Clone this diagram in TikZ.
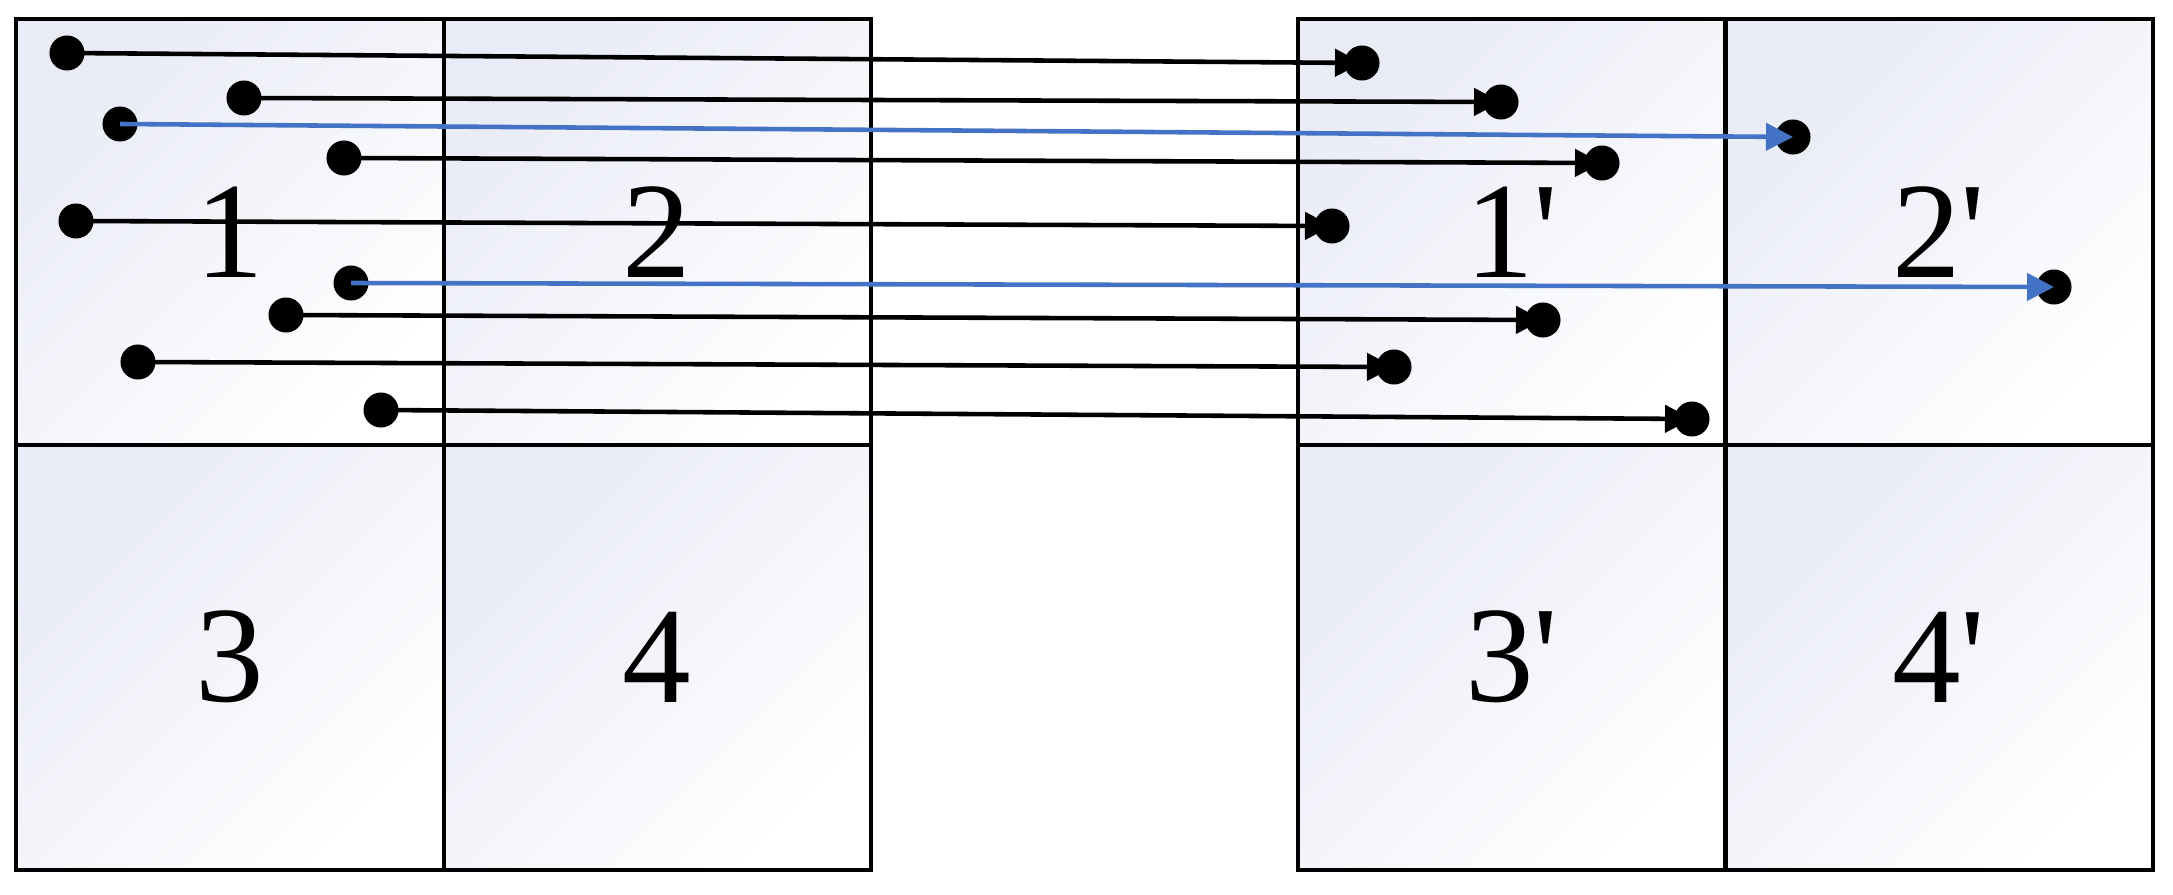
\documentclass[tikz,border=0pt]{standalone}
\usepackage{fontspec}
\setmainfont{Liberation Serif}
\usepackage{tikz}
\usetikzlibrary{arrows.meta,positioning}
\definecolor{cellTint}{RGB}{233,235,246}
\definecolor{moveBlue}{RGB}{68,114,196}

\begin{document}
\begin{tikzpicture}[x=0.01cm,y=-0.01cm,->,>={Triangle[length=2.7mm,width=2.7mm]},node distance=0cm,
	cell node/.style={draw, line width=1.2pt, outer sep=0pt, minimum width=4.27cm, minimum height=4.25cm, top color=cellTint, bottom color=white, shading angle=45, font=\fontsize{39}{39}\selectfont},
	dot node/.style={circle, fill=black, inner sep=0pt, minimum size=3.5mm}]
				\useasboundingbox (0,0) rectangle (2173,894);
				
				\node[cell node] (c1) at (230,232) {1};
				\node[cell node] (c2) [right=of c1] {2};
				\node[cell node] (c3) [below=of c1] {3};
				\node[cell node] (c4) [right=of c3] {4};
				
				\node[cell node] (c1p) [right=4.27cm of c2] {1\textquotesingle};
				\node[cell node] (c2p) [right=of c1p] {2\textquotesingle};
				\node[cell node] (c3p) [below=of c1p] {3\textquotesingle};
				\node[cell node] (c4p) [right=of c3p] {4\textquotesingle};
				
				\node[dot node] (s1) at (67,53) {};
				\node[dot node] (s2) at (244,98) {};
				\node[dot node] (s3) at (120,124) {};
				\node[dot node] (s4) at (344,158) {};
				\node[dot node] (s5) at (76,221) {};
				\node[dot node] (s6) at (351,283) {};
				\node[dot node] (s7) at (286,315) {};
				\node[dot node] (s8) at (138,362) {};
				\node[dot node] (s9) at (381,410) {};
				
				\node[dot node] (t1) at (1362,63) {};
				\node[dot node] (t2) at (1501,102) {};
				\node[dot node] (t3) at (1793,137) {};
				\node[dot node] (t4) at (1602,163) {};
				\node[dot node] (t5) at (1332,226) {};
				\node[dot node] (t6) at (2054,287) {};
				\node[dot node] (t7) at (1543,320) {};
				\node[dot node] (t8) at (1394,367) {};
				\node[dot node] (t9) at (1692,419) {};
				
				\path[line width=1.3pt]
				(s1.center) edge (t1.center)
				(s2.center) edge (t2.center)
				(s3.center) edge [moveBlue] (t3.center)
				(s4.center) edge (t4.center)
				(s5.center) edge (t5.center)
				(s6.center) edge [moveBlue] (t6.center)
				(s7.center) edge (t7.center)
				(s8.center) edge (t8.center)
				(s9.center) edge (t9.center);
				
				\end{tikzpicture}
\end{document}
